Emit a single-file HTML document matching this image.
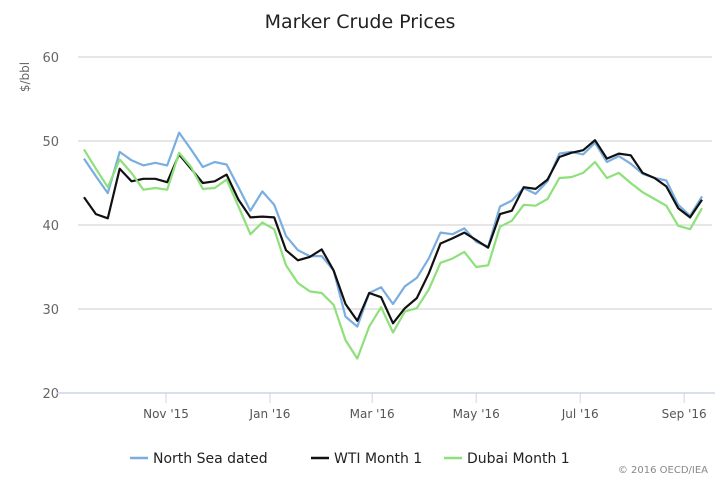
<!DOCTYPE html>
<html><head><meta charset="utf-8"><style>
body{margin:0;background:#fff;}
svg{display:block;font-family:"DejaVu Sans","Liberation Sans",sans-serif;}
</style></head><body>
<svg id="chart" width="720" height="480">
<text x="360" y="28" text-anchor="middle" font-size="19" fill="#222">Marker Crude Prices</text>
<text transform="translate(29,77) rotate(-90)" text-anchor="middle" font-size="12" fill="#666">$/bbl</text>
<g id="grid"></g><g id="xaxis"></g><g id="series"></g>
<g>
<g><line x1="130" y1="458" x2="148" y2="458" stroke="#7aaee0" stroke-width="2.5"/><text x="153" y="463" font-size="14" fill="#222">North Sea dated</text></g>
<g><line x1="311" y1="458" x2="329" y2="458" stroke="#111" stroke-width="2.5"/><text x="334" y="463" font-size="14" fill="#222">WTI Month 1</text></g>
<g><line x1="444" y1="458" x2="462" y2="458" stroke="#8ee07a" stroke-width="2.5"/><text x="467" y="463" font-size="14" fill="#222">Dubai Month 1</text></g>
</g>
<text x="708" y="473" text-anchor="end" font-size="10" fill="#888">© 2016 OECD/IEA</text>
</svg>
<script>
const northSea=[47.9,45.8,43.8,48.7,47.7,47.1,47.4,47.1,51.0,49.0,46.9,47.5,47.2,44.5,41.7,44.0,42.4,38.7,37.0,36.3,36.3,34.6,29.1,27.9,31.9,32.6,30.6,32.7,33.7,36.0,39.1,38.9,39.6,38.0,37.4,42.2,42.9,44.4,43.7,45.2,48.5,48.7,48.4,49.8,47.5,48.2,47.3,46.1,45.6,45.3,42.4,41.1,43.4];
const wti=[43.3,41.3,40.8,46.7,45.2,45.5,45.5,45.1,48.4,46.7,45.0,45.2,46.0,43.0,40.9,41.0,40.9,37.0,35.8,36.2,37.1,34.6,30.6,28.6,31.9,31.4,28.3,30.1,31.3,34.2,37.8,38.4,39.1,38.2,37.3,41.3,41.7,44.5,44.3,45.4,48.1,48.6,48.9,50.1,47.9,48.5,48.3,46.2,45.6,44.6,42.0,40.9,43.0];
const dubai=[49.0,46.7,44.5,47.8,46.2,44.2,44.4,44.2,48.6,46.9,44.3,44.4,45.4,42.2,38.9,40.3,39.5,35.2,33.1,32.1,31.9,30.5,26.3,24.1,27.9,30.2,27.2,29.7,30.1,32.3,35.5,36.0,36.8,35.0,35.2,39.8,40.5,42.4,42.3,43.1,45.6,45.7,46.2,47.5,45.6,46.2,45.0,43.9,43.1,42.3,39.9,39.5,42.0];
const yTicks=[20,30,40,50,60];
const xTickLabels=["Nov '15","Jan '16","Mar '16","May '16","Jul '16","Sep '16"];
const xTickIndex=[6.9,15.65,24.25,33.0,41.75,50.5];
const NS='http://www.w3.org/2000/svg';
const n=northSea.length;
function xs(i){return 84+i*(618/(n-1));}
function ys(v){return 393-(v-20)*(336/40);}
function mk(tag,attrs,parent){const e=document.createElementNS(NS,tag);for(const k in attrs)e.setAttribute(k,attrs[k]);parent.appendChild(e);return e;}
const grid=document.getElementById('grid'),xa=document.getElementById('xaxis'),se=document.getElementById('series');
yTicks.forEach(t=>{
  const y=ys(t);
  if(t>20){const l=mk('line',{x1:78,x2:712,y1:y,y2:y,stroke:'#ccc','stroke-width':1},grid);
  
  }
  const tx=mk('text',{x:59,y:y+5,'text-anchor':'end','font-size':13,fill:'#666'},grid);
  tx.textContent=t;
  
  
});
const ax=mk('line',{x1:57,x2:715,y1:393,y2:393,stroke:'#ccd6eb','stroke-width':1.5},xa);


xTickLabels.forEach((lab,k)=>{
  const x=xs(xTickIndex[k]);
  const tk=mk('line',{x1:x,x2:x,y1:393,y2:403,stroke:'#ccd6eb','stroke-width':1},xa);
  
  
  const tx=mk('text',{x:x,y:418,'text-anchor':'middle','font-size':12,fill:'#555'},xa);
  tx.textContent=lab;
  
  
});
[[northSea,'#7aaee0','north-sea-line'],[wti,'#111','wti-line'],[dubai,'#8ee07a','dubai-line']].forEach(([d,c,name])=>{
  const p=mk('polyline',{points:d.map((v,i)=>xs(i).toFixed(1)+','+ys(v).toFixed(1)).join(' '),fill:'none',stroke:c,'stroke-width':2.2,'stroke-linejoin':'round'},se);
  
  
});
</script>
</body></html>
